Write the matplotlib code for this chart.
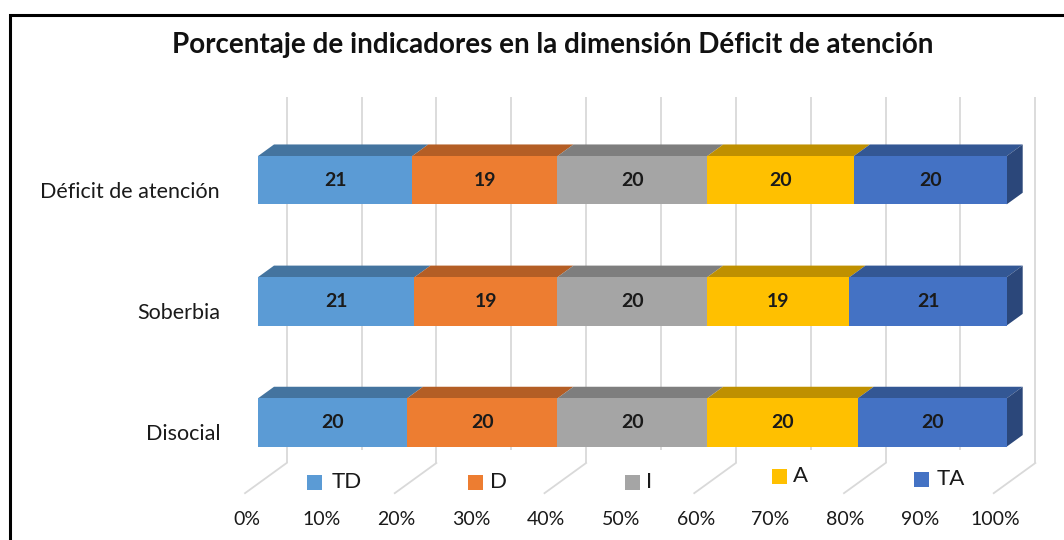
import matplotlib
matplotlib.use("Agg")
import matplotlib.pyplot as plt
from matplotlib.patches import Polygon, Rectangle

# ---------------- data ----------------
categories = ["Disocial", "Soberbia", "Déficit de atención"]
series_names = ["TD", "D", "I", "A", "TA"]
td_vals = [19.9, 20.9, 20.6]
d_vals = [20.1, 19.1, 19.4]
i_vals = [20.0, 20.0, 20.0]
a_vals = [20.1, 19.0, 19.6]
ta_vals = [19.9, 21.0, 20.4]
xtick_values = [0, 10, 20, 30, 40, 50, 60, 70, 80, 90, 100]
xtick_labels = [f"{t}%" for t in xtick_values]
title = "Porcentaje de indicadores en la dimensión Déficit de atención"

front_colors = ["#5B9BD5", "#ED7D31", "#A5A5A5", "#FFC000", "#4472C4"]
top_colors = ["#44749F", "#B45E25", "#7E7E7E", "#BF9000", "#335794"]
side_color = "#2B477A"

series_vals = [td_vals, d_vals, i_vals, a_vals, ta_vals]

# ---------------- figure / axes ----------------
W, H = 1064, 540
fig = plt.figure(figsize=(W / 100, H / 100), dpi=100)
fig.patch.set_facecolor("white")

x0_px, x1_px = 258.0, 1006.7
ytop_px, ybot_px = 97.0, 494.0
ax = fig.add_axes([x0_px / W, 1 - ybot_px / H, (x1_px - x0_px) / W, (ybot_px - ytop_px) / H])
ax.set_xlim(0, 100)
ax.set_ylim(-0.5902, 2.6868)
ax.axis("off")

PX = 100.0 / (x1_px - x0_px)   # data units per pixel (x)
PY = 1.0 / 121.15              # data units per pixel (y)
DX, DY = 16 * PX, 11.6 * PY    # depth vector
hh = 24.15 * PY                # half bar height

def yv(px_from_top):
    return (422.5 - px_from_top) * PY

grid_c = "#D9D9D9"
# back wall gridlines + floor lines
for k, t in enumerate(xtick_values):
    xb = t + 1.79 * DX
    ybottom = yv(463) if k % 2 == 0 else yv(450)
    ax.plot([xb, xb], [yv(97), ybottom], color=grid_c, lw=1.3, zorder=1,
            clip_on=False, solid_capstyle="butt")
    if k % 2 == 0:
        ax.plot([xb, t - 0.81 * DX], [yv(463), yv(463) - 2.6 * DY], color=grid_c,
                lw=1.3, zorder=1, clip_on=False)

# bars
for ci, cat in enumerate(categories):
    left = 0.0
    for si, vals in enumerate(series_vals):
        w = vals[ci]
        right = left + w
        yb, yt = ci - hh, ci + hh
        front = Polygon([(left, yb), (right, yb), (right, yt), (left, yt)], closed=True,
                        facecolor=front_colors[si], edgecolor="none", zorder=3, clip_on=False)
        top = Polygon([(left, yt), (right, yt), (right + DX, yt + DY), (left + DX, yt + DY)],
                      closed=True, facecolor=top_colors[si], edgecolor="none", zorder=2,
                      clip_on=False)
        ax.add_patch(top)
        ax.add_patch(front)
        if si == len(series_vals) - 1:
            side = Polygon([(right, yb), (right + DX, yb + DY), (right + DX, yt + DY), (right, yt)],
                           closed=True, facecolor=side_color, edgecolor="none", zorder=2,
                           clip_on=False)
            ax.add_patch(side)
        ax.text((left + right) / 2, ci, f"{round(w)}", ha="center", va="center",
                fontsize=14, fontweight="bold", color="#1A1A1A", family="Lato", zorder=5)
        left = right
    # category labels
    ax.text(-38 * PX, ci - 11.5 * PY, cat, ha="right", va="center", fontsize=15.5,
            color="#1A1A1A", family="Lato", clip_on=False)

# x tick labels
for t, lab in zip(xtick_values, xtick_labels):
    ax.text(t - 0.72 * DX, yv(520), lab, ha="center", va="center", fontsize=14,
            color="#1A1A1A", family="Lato", clip_on=False)

# legend (manual, Excel-like placement)
leg_sq = [(307, 475), (468, 475), (625, 475), (772, 469), (914, 472)]
leg_tx = [(332, 482), (490, 482), (646, 482), (793, 476), (937, 479)]
for si, name in enumerate(series_names):
    sx, sy = leg_sq[si]
    fig.patches.append(Rectangle((sx / W, 1 - (sy + 15) / H), 15 / W, 15 / H,
                                 transform=fig.transFigure, facecolor=front_colors[si],
                                 edgecolor="none"))
    tx, ty = leg_tx[si]
    fig.text(tx / W, 1 - ty / H, name, ha="left", va="center", fontsize=16,
             color="#1A1A1A", family="Lato")

# title
fig.text(552.5 / W, 1 - 45 / H, title, ha="center", va="center", fontsize=20,
         fontweight="bold", color="#111111", family="Lato")

# outer frame
fig.patches.append(Rectangle((9.5 / W, -0.05), 1.2, 1 - 15 / H + 0.05,
                             transform=fig.transFigure, facecolor="none",
                             edgecolor="black", lw=2.2))

fig.savefig("out.png", dpi=100)
